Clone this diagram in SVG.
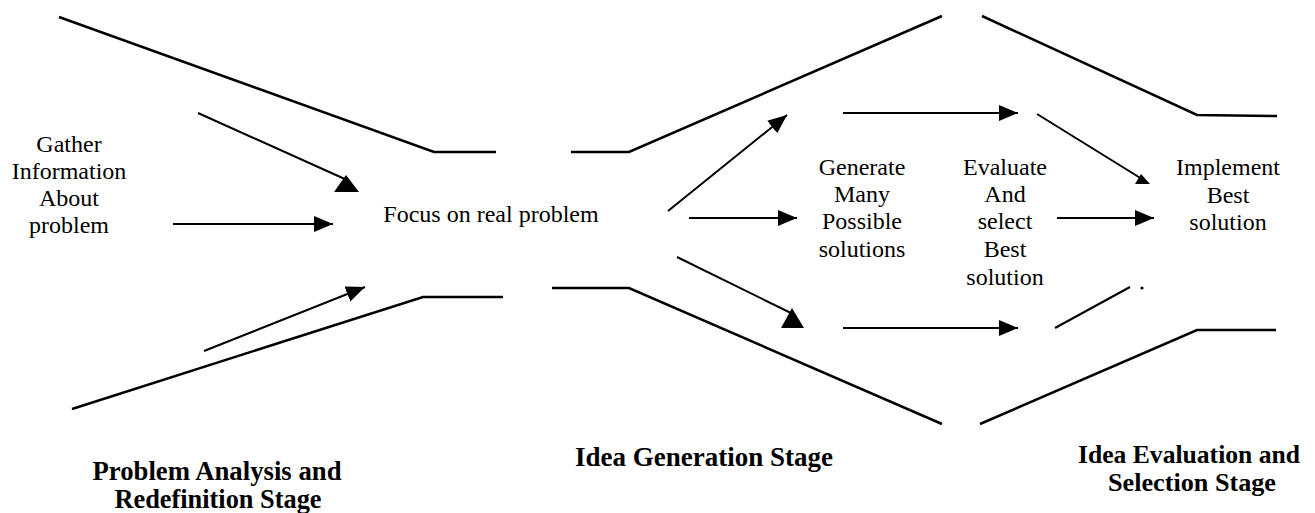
<svg xmlns="http://www.w3.org/2000/svg" width="1315" height="513" viewBox="0 0 1315 513">
<style>
.ln{fill:none;stroke:#000;stroke-width:2.5;stroke-linejoin:miter}
.ar{fill:none;stroke:#000;stroke-width:2;marker-end:url(#ah)}
.ap{fill:none;stroke:#000;stroke-width:2}
.hd{fill:#000;stroke:none}
.t{font-family:"Liberation Serif","Times New Roman",serif;font-size:24px;fill:#000;text-anchor:middle}
.b{font-family:"Liberation Serif","Times New Roman",serif;font-size:27px;font-weight:bold;fill:#000;text-anchor:middle}
.b2{font-family:"Liberation Serif","Times New Roman",serif;font-size:26px;font-weight:bold;fill:#000;text-anchor:middle}
</style>
<defs>
<marker id="ah" markerUnits="userSpaceOnUse" markerWidth="22" markerHeight="20" refX="19" refY="8" orient="auto">
<path d="M0,0 L19,8 L0,16 Z" fill="#000"/>
</marker>
</defs>
<rect width="1315" height="513" fill="#fff"/>
<g id="funnel">
<polyline class="ln" points="59,17 434,152 496,152"/>
<polyline class="ln" points="571,152 629,152 942,16"/>
<polyline class="ln" points="982,16 1197,115 1277,116"/>
<polyline class="ln" points="72,409 423,297 503,297"/>
<polyline class="ln" points="552,288 629,288 942,424"/>
<polyline class="ln" points="980,424 1197,330 1276,330"/>
</g>
<g id="connectors">
<line class="ap" x1="198" y1="113" x2="347" y2="180"/>
<polygon class="hd" points="334,192 359,192 346,175"/>
<line class="ar" x1="173" y1="224" x2="333" y2="224"/>
<line class="ar" x1="204" y1="351" x2="365" y2="287"/>
<line class="ar" x1="668" y1="211" x2="787" y2="115"/>
<line class="ar" x1="689" y1="218" x2="797" y2="218"/>
<line class="ap" x1="677" y1="257" x2="793" y2="314"/>
<polygon class="hd" points="781,328 804,328 792,308"/>
<line class="ar" x1="843" y1="113" x2="1018" y2="113"/>
<line class="ar" x1="843" y1="328" x2="1018" y2="328"/>
<line class="ap" x1="1037" y1="114" x2="1142" y2="179"/>
<polygon class="hd" points="1135,184 1150,184 1141,174"/>
<line class="ar" x1="1057" y1="218" x2="1154" y2="218"/>
<line class="ap" x1="1055" y1="328" x2="1130" y2="287"/>
<circle cx="1142" cy="288" r="1.6" fill="#000"/>
</g>
<g id="gather">
<text class="t" x="69" y="152">Gather</text>
<text class="t" x="69" y="179">Information</text>
<text class="t" x="69" y="206">About</text>
<text class="t" x="69" y="233">problem</text>
</g>
<g id="focus">
<text class="t" x="491" y="222">Focus on real problem</text>
</g>
<g id="generate">
<text class="t" x="862" y="175">Generate</text>
<text class="t" x="862" y="202">Many</text>
<text class="t" x="862" y="229">Possible</text>
<text class="t" x="862" y="257">solutions</text>
</g>
<g id="evaluate">
<text class="t" x="1005" y="175">Evaluate</text>
<text class="t" x="1005" y="202">And</text>
<text class="t" x="1005" y="229">select</text>
<text class="t" x="1005" y="257">Best</text>
<text class="t" x="1005" y="285">solution</text>
</g>
<g id="implement">
<text class="t" x="1228" y="175">Implement</text>
<text class="t" x="1228" y="203">Best</text>
<text class="t" x="1228" y="230">solution</text>
</g>
<g id="stage1">
<text class="b" x="217" y="480" textLength="249" lengthAdjust="spacingAndGlyphs">Problem Analysis and</text>
<text class="b" x="218" y="508" textLength="207" lengthAdjust="spacingAndGlyphs">Redefinition Stage</text>
</g>
<g id="stage2">
<text class="b" x="704" y="466" textLength="258" lengthAdjust="spacingAndGlyphs">Idea Generation Stage</text>
</g>
<g id="stage3">
<text class="b2" x="1189" y="463" textLength="222" lengthAdjust="spacingAndGlyphs">Idea Evaluation and</text>
<text class="b2" x="1192" y="491" textLength="168" lengthAdjust="spacingAndGlyphs">Selection Stage</text>
</g>
</svg>
